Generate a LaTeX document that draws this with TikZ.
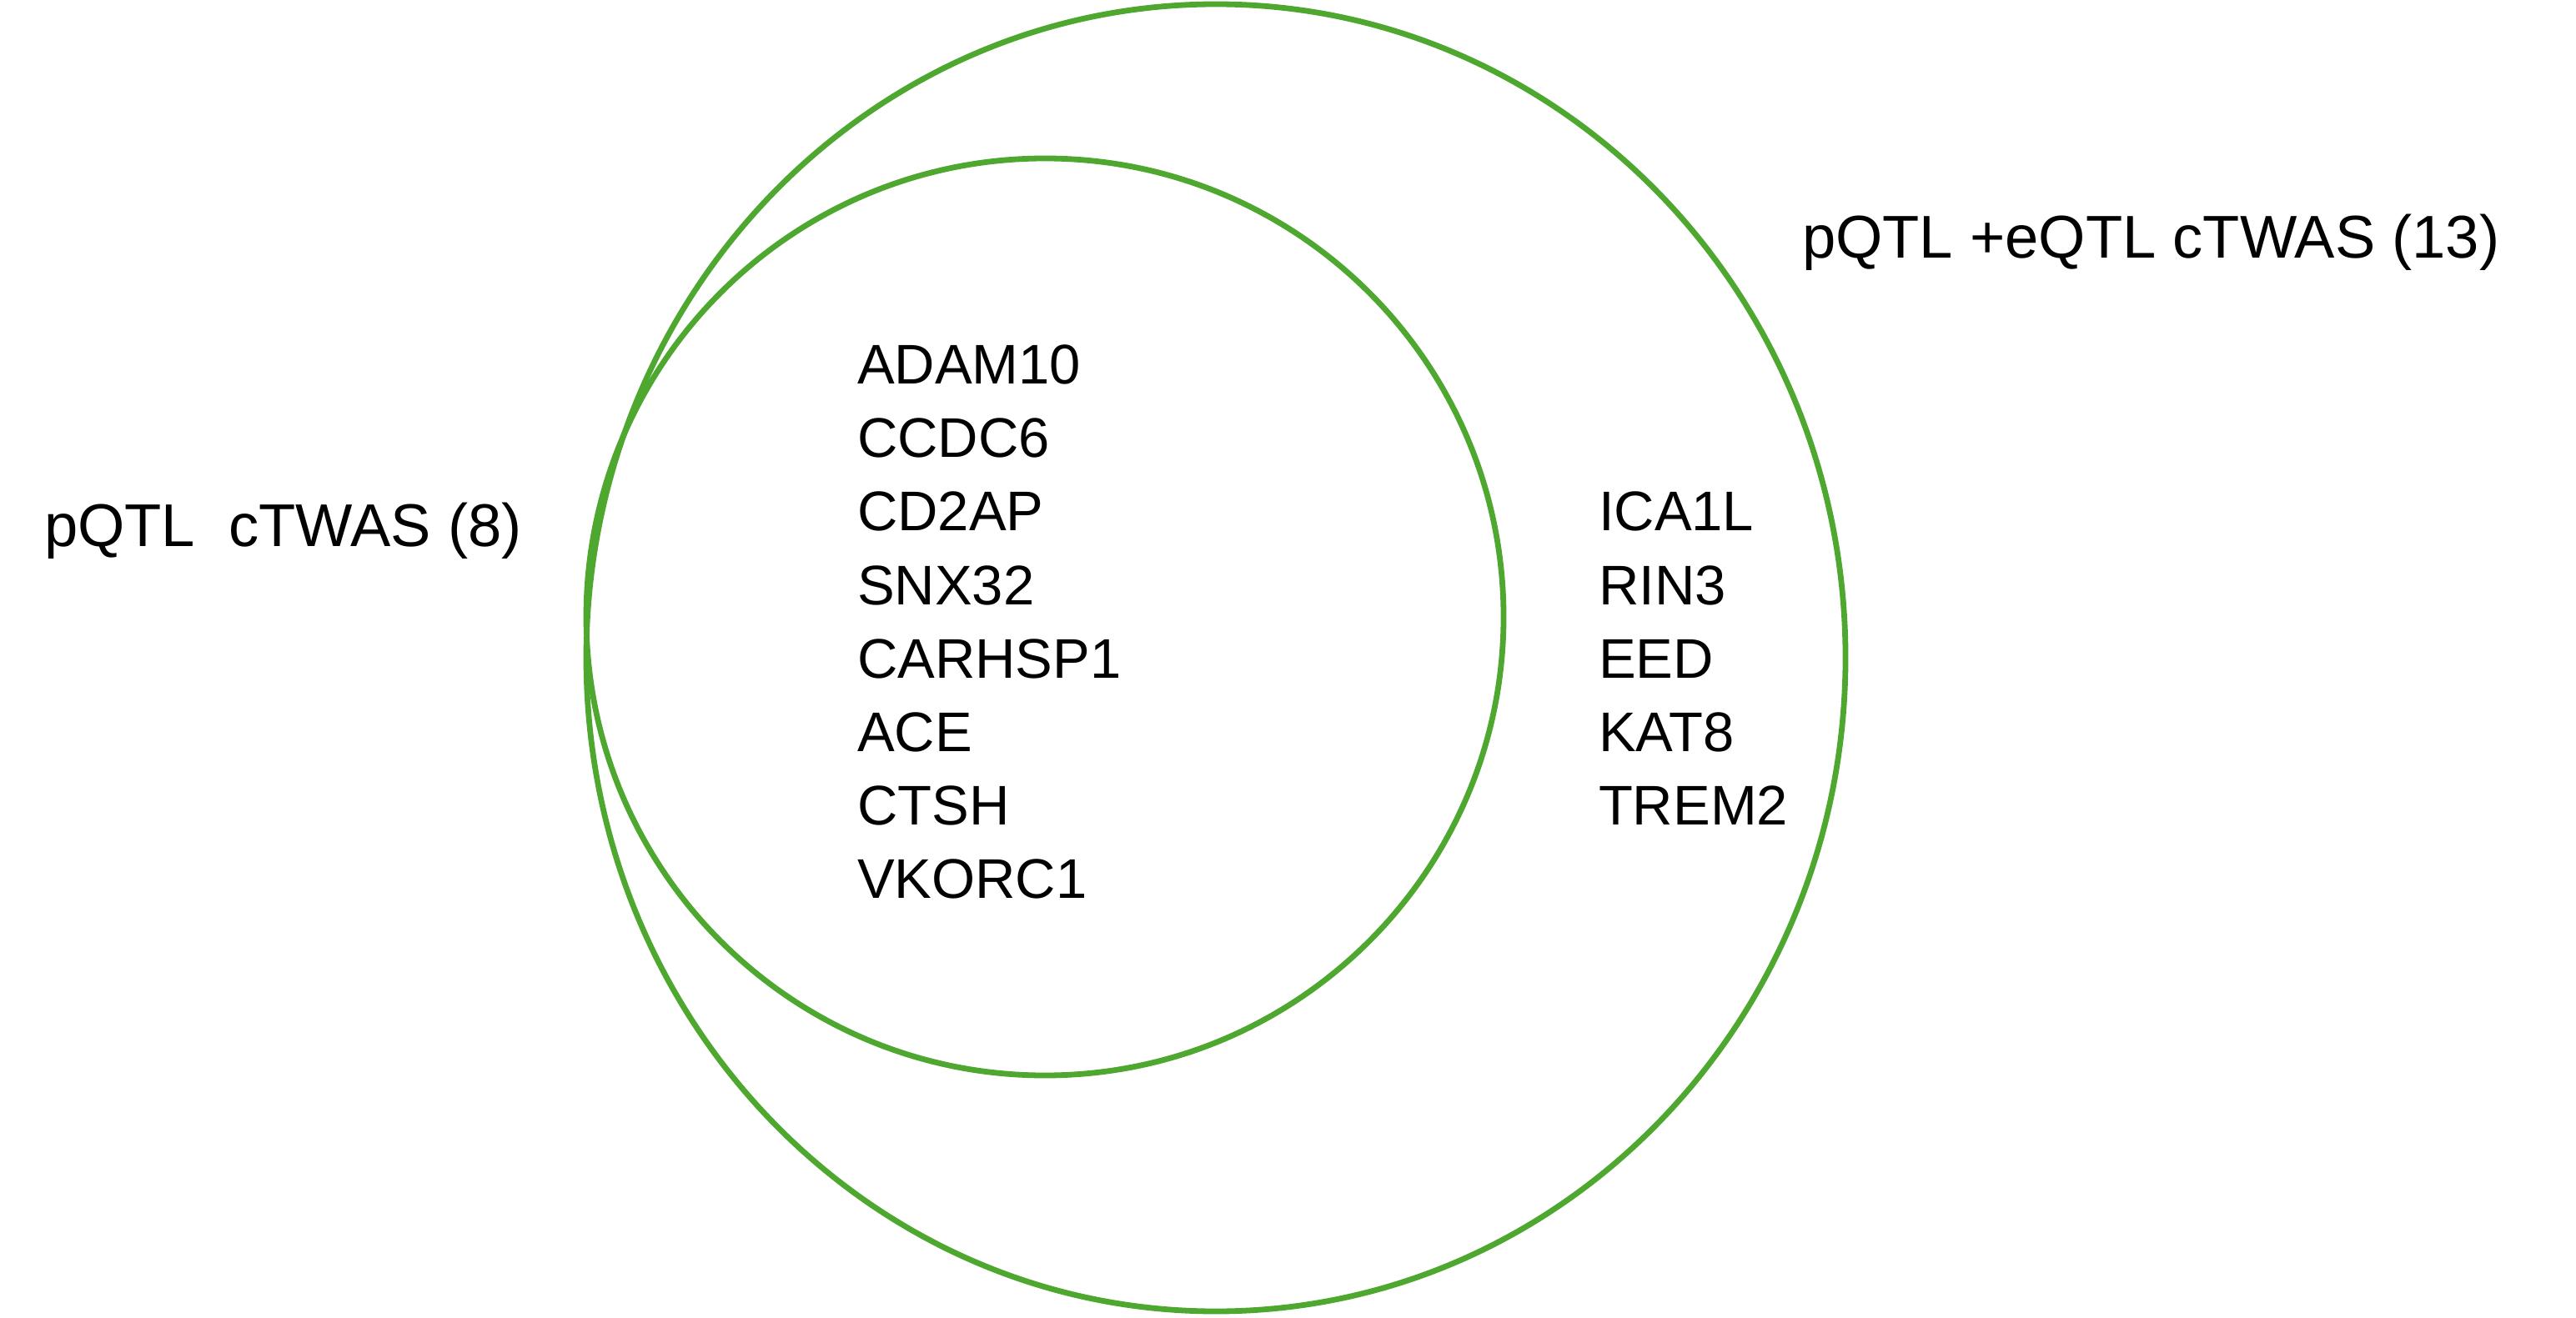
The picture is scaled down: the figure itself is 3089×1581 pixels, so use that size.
\documentclass[tikz,border=0pt]{standalone}
\usepackage{fontspec}
\setmainfont{Liberation Sans}
\definecolor{c4ea72e}{RGB}{78,167,46}

\begin{document}
\begin{tikzpicture}[y=0.25pt, x=0.25pt, yscale=-1, inner sep=0pt, outer sep=0pt,
  gene/.style={anchor=base west,font=\fontsize{16.75}{20}\selectfont},
  setlabel/.style={anchor=base west,font=\fontsize{18.1}{22}\selectfont}]
  \path[use as bounding box] (0,0) rectangle (3089,1581);
  % the two sets
  \path[draw=c4ea72e,line width=1.7pt] (1458,789) ellipse (755 and 784);
  \path[draw=c4ea72e,line width=1.7pt] (1253,740) circle (550);
  \path (53,656) node[setlabel] (pqtl) {pQTL\ \ cTWAS (8)};
  \path (2161,310) node[setlabel] (pqtleqtl) {pQTL +eQTL cTWAS (13)};
  % shared genes
  \path (1028,461) node[gene] (adam10) {ADAM10};
  \path (1028,549) node[gene] (ccdc6) {CCDC6};
  \path (1028,637) node[gene] (cd2ap) {CD2AP};
  \path (1028,725) node[gene] (snx32) {SNX32};
  \path (1028,813) node[gene] (carhsp1) {CARHSP1};
  \path (1028,901) node[gene] (ace) {ACE};
  \path (1028,989) node[gene] (ctsh) {CTSH};
  \path (1028,1077) node[gene] (vkorc1) {VKORC1};
  % eQTL only
  \path (1917,637) node[gene] (ica1l) {ICA1L};
  \path (1917,725) node[gene] (rin3) {RIN3};
  \path (1917,813) node[gene] (eed) {EED};
  \path (1917,901) node[gene] (kat8) {KAT8};
  \path (1917,989) node[gene] (trem2) {TREM2};
\end{tikzpicture}
\end{document}
